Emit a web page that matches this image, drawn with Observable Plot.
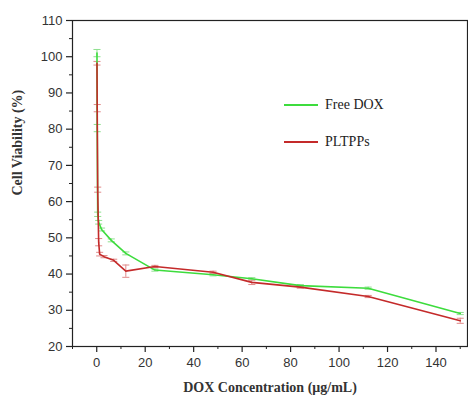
<!DOCTYPE html>
<html>
<head>
<meta charset="utf-8">
<script src="https://cdn.jsdelivr.net/npm/d3@7"></script>
<script src="https://cdn.jsdelivr.net/npm/@observablehq/plot@0.6"></script>
<style>
  body { margin: 0; background: #fff; }
  #wrap { position: relative; width: 468px; height: 397px; }
  .legend { position: absolute; left: 284px; font-family: "Liberation Serif", "Times New Roman", serif; font-size: 14px; color: #222; }
  .legend div { display: flex; align-items: center; height: 20px; }
  .legend span.sw { display: inline-block; width: 34px; height: 2px; margin-right: 7px; }
  svg text { fill: #333; }
</style>
</head>
<body>
<div id="wrap"></div>
<script>
const seriesNames = ["Free DOX", "PLTPPs"];
const seriesColors = ["#3ddc3d", "#c42a2a"];
const errColors = ["#8fe08f", "#e08a8a"];

const freeDoxConc = [0.1, 0.2, 0.4, 0.8, 2, 6, 12, 24, 48, 64, 84, 112, 150];
const freeDoxViab = [101, 80.3, 56.5, 54.3, 52.3, 49.3, 45.7, 41.1, 39.8, 38.7, 36.8, 36.1, 29.1];
const freeDoxErr  = [1.0, 1.0, 0.6, 0.5, 0.4, 0.4, 0.4, 0.3, 0.3, 0.3, 0.3, 0.3, 0.3];

const pltppsConc = [0.1, 0.2, 0.4, 0.8, 1.2, 3, 7, 12, 24, 48, 64, 84, 112, 150];
const pltppsViab = [98.2, 85.8, 63.3, 48.8, 45.5, 44.8, 43.8, 40.8, 42.1, 40.5, 37.7, 36.4, 33.8, 27.1];
const pltppsErr  = [0.5, 1.0, 0.7, 1.0, 0.5, 0.3, 0.3, 1.7, 0.3, 0.3, 0.6, 0.3, 0.3, 0.7];

const xMajor = [0, 20, 40, 60, 80, 100, 120, 140];
const xMinor = [-10, 10, 30, 50, 70, 90, 110, 130, 150];
const yMajor = [20, 30, 40, 50, 60, 70, 80, 90, 100, 110];
const yMinor = [25, 35, 45, 55, 65, 75, 85, 95, 105];

const free = freeDoxConc.map((x, i) => ({x, y: freeDoxViab[i], e: freeDoxErr[i], s: seriesNames[0]}));
const plt = pltppsConc.map((x, i) => ({x, y: pltppsViab[i], e: pltppsErr[i], s: seriesNames[1]}));
const all = [...free, ...plt];
const caps = all.flatMap(d => [{x: d.x, y: d.y - d.e, s: d.s}, {x: d.x, y: d.y + d.e, s: d.s}]);

const capSymbol = { draw(ctx, size) { const r = Math.sqrt(size) / 2; ctx.moveTo(-r, 0); ctx.lineTo(r, 0); } };

const chart = Plot.plot({
  width: 468,
  height: 397,
  marginLeft: 72,
  marginTop: 20,
  marginRight: 1,
  marginBottom: 51,
  style: { fontFamily: "'Liberation Sans', Arial, sans-serif", fontSize: "13px", background: "#fff", overflow: "visible" },
  x: { domain: [-10, 153] },
  y: { domain: [20, 110] },
  color: { domain: seriesNames, range: seriesColors },
  marks: [
    Plot.frame({ stroke: "#222", strokeWidth: 1.2 }),
    Plot.ruleX(all, { x: "x", y1: d => d.y - d.e, y2: d => d.y + d.e, stroke: d => errColors[seriesNames.indexOf(d.s)], strokeWidth: 1 }),
    Plot.dot(caps, { x: "x", y: "y", symbol: capSymbol, r: 4, stroke: d => errColors[seriesNames.indexOf(d.s)], strokeWidth: 1, fill: "none" }),
    Plot.line(free, { x: "x", y: "y", stroke: seriesColors[0], strokeWidth: 1.6 }),
    Plot.line(plt, { x: "x", y: "y", stroke: seriesColors[1], strokeWidth: 1.6 }),
    Plot.axisX({ ticks: xMajor, tickSize: 6, tickPadding: 5, tickFormat: d3.format("d"), label: null, stroke: "#222", strokeWidth: 1.2, style: {letterSpacing: "1px"} }),
    Plot.axisX({ ticks: xMinor, tickSize: 3, tickFormat: null, label: null, text: null, stroke: "#222" }),
    Plot.axisY({ ticks: yMajor, tickSize: 6, tickPadding: 4, tickFormat: d3.format("d"), label: null, stroke: "#222", strokeWidth: 1.2, style: {letterSpacing: "1px"} }),
    Plot.axisY({ ticks: yMinor, tickSize: 3, tickFormat: null, label: null, text: null, stroke: "#222" }),
    Plot.text(["DOX Concentration (μg/mL)"], { frameAnchor: "bottom", dy: 45, fontFamily: "'Liberation Serif', 'Times New Roman', serif", fontWeight: "bold", fontSize: 14, fill: "#111" }),
    Plot.text(["Cell Viability (%)"], { frameAnchor: "left", dx: -55, dy: 12, rotate: -90, fontFamily: "'Liberation Serif', 'Times New Roman', serif", fontWeight: "bold", fontSize: 14, fill: "#111" })
  ]
});

const wrap = document.getElementById("wrap");
wrap.appendChild(chart);

const legend = document.createElement("div");
legend.className = "legend";
legend.style.top = "95px";
seriesNames.forEach((name, i) => {
  const row = document.createElement("div");
  if (i > 0) row.style.marginTop = "17px";
  const sw = document.createElement("span");
  sw.className = "sw";
  sw.style.background = seriesColors[i];
  row.appendChild(sw);
  row.appendChild(document.createTextNode(name));
  legend.appendChild(row);
});
wrap.appendChild(legend);
</script>
</body>
</html>
